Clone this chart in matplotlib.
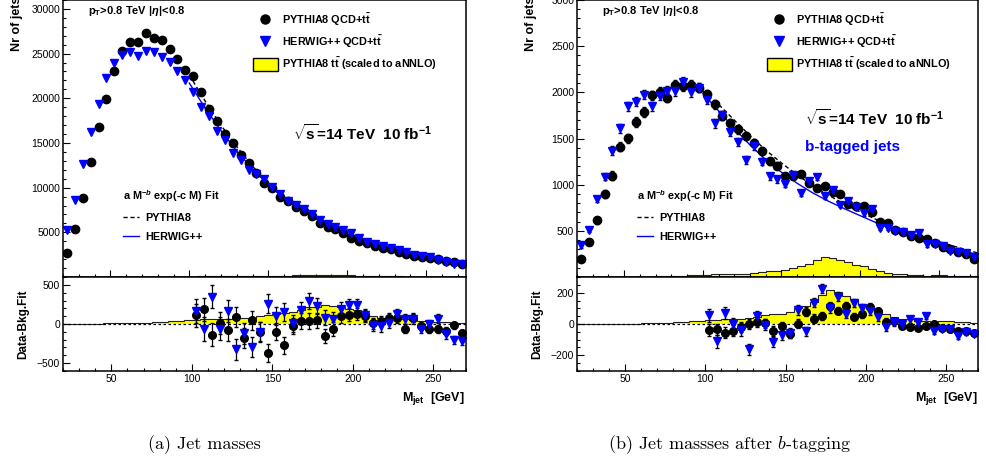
import matplotlib
matplotlib.use("Agg")
import matplotlib.pyplot as plt
from matplotlib.lines import Line2D
from matplotlib.patches import Patch
from matplotlib.ticker import MultipleLocator
import numpy as np

plt.rcParams['font.family'] = ['Liberation Sans', 'DejaVu Sans']
plt.rcParams['mathtext.fontset'] = 'custom'
plt.rcParams['mathtext.rm'] = 'Liberation Sans:bold'
plt.rcParams['mathtext.bf'] = 'Liberation Sans:bold'
plt.rcParams['mathtext.it'] = 'Liberation Sans:bold:italic'
plt.rcParams['mathtext.sf'] = 'Liberation Sans:bold'

W, H = 987, 465

# bins of the jet mass histograms (5 GeV)
edges = np.arange(20, 280, 5)
mass = edges[:-1] + 2.5
resid_mass = np.arange(102.5, 270, 5)
fit_mass = [100, 110, 120, 130, 140, 150, 160, 170, 180, 190, 200, 210, 220, 230, 240, 250, 260, 270, 275]

# ---- (a) all jets ----
pythia_a = [2650, 5400, 8800, 12900, 16800, 19950, 23050, 25300, 26250, 26350,
            27300, 26700, 26500, 25550, 24400, 23150, 22450, 20700, 18750, 17500,
            16050, 14950, 13600, 12800, 11600, 10480, 9920, 8990, 8500, 7870,
            7380, 6830, 6080, 5630, 5340, 4890, 4400, 4030, 3840, 3500,
            3210, 3100, 2830, 2540, 2390, 2270, 2090, 1980, 1820, 1710, 1420]
herwig_a = [5250, 8600, 12650, 16250, 19350, 22250, 24000, 24850, 25150, 24750,
            25300, 25200, 24600, 24050, 23050, 22050, 20650, 19000, 18050, 16350,
            15300, 13850, 13100, 11950, 11550, 11010, 10030, 9330, 8500, 8065,
            7620, 7030, 6390, 5910, 5610, 5250, 4880, 4410, 3950, 3650,
            3420, 3280, 2980, 2780, 2450, 2330, 2230, 1870, 1640, 1500, 1400]
ttbar_a = [2, 3, 4, 5, 6, 8, 10, 11, 12, 14, 16, 22, 30, 35, 42, 48, 55, 58, 60, 64,
           68, 72, 75, 82, 100, 110, 125, 140, 160, 178, 215, 225, 248, 235, 215, 198,
           178, 140, 100, 72, 65, 60, 58, 52, 42, 38, 30, 22, 18, 16, 14]
fit_pythia_a = [22600, 19700, 17000, 14600, 12400, 10500, 8950, 7700, 6620, 5680,
                4850, 4150, 3550, 3050, 2620, 2250, 1930, 1660, 1540]
fit_herwig_a = [21700, 18900, 16400, 14100, 12100, 10300, 8800, 7580, 6540, 5620,
                4810, 4120, 3530, 3030, 2600, 2240, 1920, 1650, 1530]
res_pythia_a = [112, 189, -138, 17, -77, 90, -176, 47, -100, -370, -99, -275, -26, 39,
                39, 47, -150, -60, 103, 120, 129, 103, 9, 39, 82, 77, -60, 82, -26,
                -60, -60, -90, -17, -120]
res_herwig_a = [168, -60, 352, -60, 168, -327, -120, -292, -103, 262, 103, 159, 9, 180,
                296, 232, 82, 60, 189, 240, 240, 116, -17, -26, 17, 129, 60, 69, -60,
                -4, 69, -133, -206, -219]
res_err_pythia_a = [150, 150, 145, 140, 140, 135, 130, 125, 120, 115, 110, 110, 105, 100,
                    100, 95, 90, 90, 85, 80, 80, 75, 70, 70, 65, 65, 60, 60, 55, 55,
                    50, 50, 45, 45]
res_err_herwig_a = [155, 155, 150, 145, 145, 140, 135, 130, 125, 120, 115, 115, 110, 105,
                    105, 100, 95, 95, 90, 85, 85, 80, 75, 75, 70, 70, 65, 65, 60, 60,
                    55, 55, 50, 50]

# ---- (b) b-tagged jets ----
pythia_b = [198, 381, 614, 899, 1099, 1412, 1502, 1678, 1789, 1969,
            2004, 1944, 2084, 2066, 2084, 2052, 1980, 1872, 1745, 1664,
            1599, 1524, 1455, 1365, 1254, 1207, 1090, 1095, 1114, 1022,
            965, 982, 918, 895, 788, 769, 769, 700, 600, 590,
            505, 487, 442, 419, 413, 365, 330, 302, 270, 245, 198]
herwig_b = [342, 514, 845, 1088, 1369, 1610, 1850, 1897, 1976, 1850,
            1965, 2015, 2015, 2112, 2004, 2052, 1922, 1664, 1753, 1573,
            1465, 1268, 1420, 1250, 1089, 1060, 1010, 1107, 909, 1035,
            1082, 880, 945, 783, 819, 755, 694, 737, 532, 532,
            496, 485, 460, 478, 352, 352, 334, 280, 269, 255, 219]
err_b = [25, 30, 35, 40, 45, 48, 50, 50, 52, 50, 52, 52, 52, 53, 52, 52, 50, 48, 48, 46,
         45, 42, 42, 40, 38, 38, 36, 36, 34, 35, 33, 32, 30, 30, 30, 28, 28, 26, 25, 25,
         24, 23, 23, 22, 22, 21, 20, 20, 19, 19, 18]
ttbar_b = [0, 0, 1, 1, 2, 2, 3, 3, 4, 5, 6, 8, 10, 15, 18, 22, 26, 28, 29, 30,
           33, 36, 45, 55, 62, 66, 75, 100, 118, 140, 185, 220, 205, 182, 160, 130,
           115, 92, 62, 48, 35, 30, 22, 17, 16, 17, 22, 12, 10, 9, 8]
fit_pythia_b = [2010, 1870, 1700, 1530, 1375, 1235, 1105, 990, 885, 790,
                705, 625, 550, 485, 435, 385, 332, 282, 260]
fit_herwig_b = [1990, 1800, 1610, 1430, 1270, 1135, 1015, 910, 820, 740,
                665, 590, 520, 455, 400, 350, 305, 262, 243]
res_pythia_b = [-38, -34, -55, -43, -17, 0, 11, 4, -45, -13, -61, 1, 80, 35, 49,
                114, 86, 114, 46, 62, 112, 83, 16, 19, -14, -18, -23, -14, 1, -27,
                -34, -45, -42, -58]
res_herwig_b = [56, -111, 73, 2, -41, -162, 49, -4, -115, -68, -56, 88, -47, 137, 227,
                100, 176, 64, 133, 102, 85, 46, -20, 12, 1, 29, 14, 50, -45, -29,
                -31, -77, -50, -61]
res_err_pythia_b = [36, 36, 34, 34, 32, 32, 30, 30, 30, 28, 28, 28, 27, 26, 26, 25, 25,
                    24, 23, 22, 22, 21, 20, 20, 19, 18, 18, 17, 17, 16, 16, 15, 15, 14]
res_err_herwig_b = [40, 40, 38, 38, 36, 36, 35, 34, 34, 32, 32, 32, 30, 30, 30, 29, 28,
                    28, 27, 26, 25, 25, 24, 23, 22, 22, 21, 20, 20, 19, 19, 18, 18, 17]

BLUE = '#0000ff'
YELLOW = '#ffff00'


def px(x, y):
    return x / W, 1 - y / H


def style_axes(ax, ymajor, yminor):
    ax.xaxis.set_major_locator(MultipleLocator(50))
    ax.xaxis.set_minor_locator(MultipleLocator(10))
    ax.yaxis.set_minor_locator(MultipleLocator(yminor))
    ax.set_yticks(ymajor)
    ax.tick_params(which='both', direction='in', top=False, right=False,
                   labelsize=7.5, pad=2, width=0.8)
    ax.tick_params(which='major', length=5)
    ax.tick_params(which='minor', length=2.5)
    for s in ax.spines.values():
        s.set_linewidth(1.1)


def panel(x0, width, pythia, herwig, ttbar, fit_p, fit_h, res_p, res_h, err_rp, err_rh,
          ytop, yticks, yminor, rlim, rticks, rminor, err=None):
    ax = fig.add_axes([x0 / W, (H - 277) / H, width / W, 277 / H])
    ax.stairs(ttbar, edges, fill=True, color=YELLOW, lw=0)
    ax.stairs(ttbar, edges, color='#222222', lw=0.8)
    ax.plot(fit_mass, fit_p, color='black', ls=(0, (3, 2)), lw=1.0)
    ax.plot(fit_mass, fit_h, color=BLUE, lw=1.0)
    if err is None:
        ax.plot(mass, pythia, 'o', color='black', ms=6)
        ax.plot(mass, herwig, 'v', color=BLUE, ms=6)
    else:
        ax.errorbar(mass, pythia, yerr=err, fmt='o', color='black', ms=6,
                    elinewidth=0.9, capsize=1.5)
        ax.errorbar(mass, herwig, yerr=err, fmt='v', color=BLUE, ms=6,
                    elinewidth=0.9, capsize=1.5, ecolor='black')
    ax.set_xlim(20, 275)
    ax.set_ylim(0, ytop)
    style_axes(ax, yticks, yminor)
    ax.tick_params(labelbottom=False)

    h_leg = [Line2D([], [], ls='none', marker='o', color='black', ms=6.5),
             Line2D([], [], ls='none', marker='v', color=BLUE, ms=6.5),
             Patch(facecolor=YELLOW, edgecolor='black', lw=1.0)]
    lab = [r'PYTHIA8 QCD+t$\bar{\rm t}$', r'HERWIG++ QCD+t$\bar{\rm t}$',
           r'PYTHIA8 t$\bar{\rm t}$ (scaled to aNNLO)']
    leg = ax.legend(h_leg, lab, loc='upper left',
                    bbox_to_anchor=px(x0 + 190, 12), bbox_transform=fig.transFigure,
                    frameon=False, prop={'weight': 'bold', 'size': 7.8},
                    handlelength=2.3, handleheight=1.4, handletextpad=0.4,
                    labelspacing=0.5, borderpad=0, borderaxespad=0)
    ax.add_artist(leg)
    h_fit = [Line2D([], [], color='black', ls=(0, (3, 2)), lw=1.0),
             Line2D([], [], color=BLUE, lw=1.0)]
    ax.legend(h_fit, ['PYTHIA8', 'HERWIG++'], loc='upper left',
              bbox_to_anchor=px(x0 + 60, 188), bbox_transform=fig.transFigure,
              frameon=False, prop={'weight': 'bold', 'size': 7.8},
              title=r'a M$^{-b}$ exp(-c M) Fit', alignment='left',
              title_fontproperties={'weight': 'bold', 'size': 7.8},
              handlelength=1.5, handletextpad=0.6, labelspacing=0.85,
              borderpad=0, borderaxespad=0)

    rx = fig.add_axes([x0 / W, (H - 371) / H, width / W, 94 / H])
    rx.stairs(ttbar[:50], edges[:51], fill=True, color=YELLOW, lw=0)
    rx.stairs(ttbar[:50], edges[:51], color='#222222', lw=0.8)
    rx.axhline(0, color='black', ls=(0, (2, 2)), lw=0.9)
    rx.errorbar(resid_mass, res_p, yerr=err_rp, fmt='o', color='black', ms=5.5,
                elinewidth=0.9, capsize=1.5)
    rx.errorbar(resid_mass, res_h, yerr=err_rh, fmt='v', color=BLUE, ms=5.5,
                elinewidth=0.9, capsize=1.5, ecolor='black')
    rx.set_xlim(20, 270)
    rx.set_ylim(-rlim, rlim)
    style_axes(rx, rticks, rminor)
    return ax, rx


fig = plt.figure(figsize=(W / 100, H / 100), dpi=100)

panel(63, 402.7, pythia_a, herwig_a, ttbar_a, fit_pythia_a, fit_herwig_a,
      res_pythia_a, res_herwig_a, res_err_pythia_a, res_err_herwig_a,
      31000, [5000, 10000, 15000, 20000, 25000, 30000], 1000,
      605, [-500, 0, 500], 100)
panel(577, 401, pythia_b, herwig_b, ttbar_b, fit_pythia_b, fit_herwig_b,
      res_pythia_b, res_herwig_b, res_err_pythia_b, res_err_herwig_b,
      3000, [500, 1000, 1500, 2000, 2500, 3000], 100,
      301, [-200, 0, 200], 50, err=err_b)

bold = dict(weight='bold')
for xo in (0, 514):
    fig.text(*px(17 + xo, -3), 'Nr of jets', rotation=90, ha='center', va='top',
             size=9, **bold)
    fig.text(*px(23 + xo, 324), 'Data-Bkg.Fit', rotation=90, ha='center',
             va='center', size=8.5, **bold)
    fig.text(*px(88 + xo, 11), r'p$_{\rm T}$>0.8 TeV |$\eta$|<0.8', ha='left',
             va='center', size=8, **bold)

fig.text(*px(465, 398), r'M$_{\rm jet}$  [GeV]', ha='right', va='center', size=9, **bold)
fig.text(*px(978, 398), r'M$_{\rm jet}$  [GeV]', ha='right', va='center', size=9, **bold)
fig.text(*px(293, 133), r'$\sqrt{\rm s}$=14 TeV  10 fb$^{-1}$', ha='left', va='center',
         size=11, **bold)
fig.text(*px(805, 118), r'$\sqrt{\rm s}$=14 TeV  10 fb$^{-1}$', ha='left', va='center',
         size=11, **bold)
fig.text(*px(805, 147), 'b-tagged jets', ha='left', va='center', size=11,
         color=BLUE, **bold)

fig.text(*px(204, 445), '(a) Jet masses', ha='center', va='center',
         family='cmr10', size=13)
fig.text(*px(730, 445), '(b) Jet massses after $b$-tagging', ha='center', va='center',
         family='cmr10', math_fontfamily='cm', size=13)

fig.savefig('out.png', dpi=100)
